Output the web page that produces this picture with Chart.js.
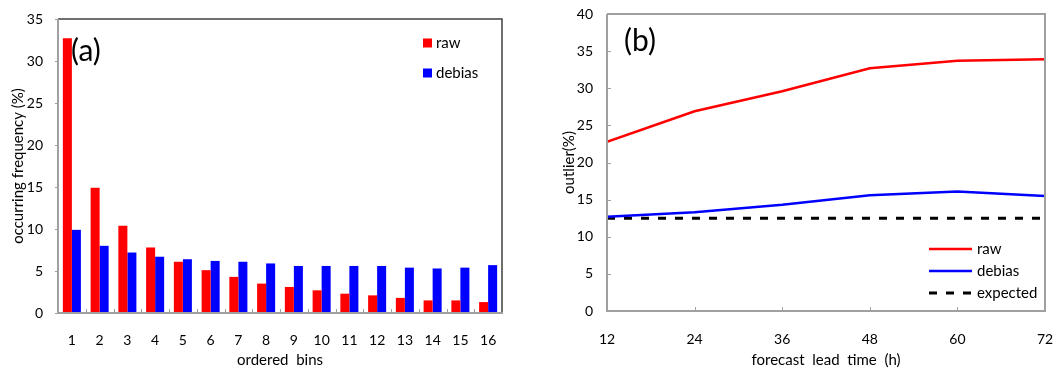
<!DOCTYPE html>
<html><head><meta charset="utf-8">
<script src="https://cdn.jsdelivr.net/npm/chart.js@4.4.1/dist/chart.umd.min.js"></script>
<style>
html,body{margin:0;padding:0;background:#fff;}
#wrap{display:flex;width:1060px;height:369px;}
canvas{display:block;}
</style></head><body>
<div id="wrap"><canvas id="ca" width="530" height="369"></canvas><canvas id="cb" width="530" height="369"></canvas></div>
<script>
// ---- data ----
const bins = ['1','2','3','4','5','6','7','8','9','10','11','12','13','14','15','16'];
const rawFreq = [32.7,14.9,10.4,7.8,6.1,5.1,4.3,3.5,3.1,2.7,2.3,2.1,1.8,1.5,1.5,1.3];
const debiasFreq = [9.9,8.0,7.2,6.7,6.4,6.2,6.1,5.9,5.6,5.6,5.6,5.6,5.4,5.3,5.4,5.7];
const leadTimes = [12,24,36,48,60,72];
const rawOutlier = [22.8,26.9,29.6,32.7,33.7,33.9];
const debiasOutlier = [12.7,13.3,14.3,15.6,16.1,15.5];
const expectedOutlier = [12.5,12.5,12.5,12.5,12.5,12.5];
const freqAxisMax = 35, outlierAxisMax = 40, axisStep = 5, leadStep = 12;

const FONT = 'Lato, "Open Sans", sans-serif';
const GRAY = '#a0a0a0';
Chart.defaults.font.family = FONT;
Chart.defaults.color = '#000';

function noPad(s){ s.paddingLeft = 0; s.paddingRight = 0; s.paddingTop = 0; s.paddingBottom = 0; }

function decorPlugin(cfg){
  return {
    id: 'decor',
    afterDatasetsDraw(chart){
      const {ctx, chartArea:a, scales} = chart;
      ctx.save();
      // inward x ticks
      ctx.strokeStyle = GRAY; ctx.lineWidth = 1;
      cfg.xTickPixels(chart).forEach(x=>{
        x = Math.round(x)+0.5;
        ctx.beginPath(); ctx.moveTo(x, a.bottom); ctx.lineTo(x, a.bottom-4); ctx.stroke();
      });
      if (cfg.yInward){
        scales.y.ticks.forEach((t,i)=>{
          const y = Math.round(scales.y.getPixelForTick(i))+0.5;
          ctx.beginPath(); ctx.moveTo(a.left, y); ctx.lineTo(a.left+4, y); ctx.stroke();
        });
      }
      // frame
      ctx.lineWidth = cfg.tlWidth; ctx.strokeStyle = cfg.tlColor;
      ctx.beginPath(); ctx.moveTo(a.left, a.top); ctx.lineTo(a.right, a.top); ctx.lineTo(a.right, a.bottom); ctx.stroke();
      ctx.lineWidth = 2; ctx.strokeStyle = GRAY;
      ctx.beginPath(); ctx.moveTo(a.left, a.top); ctx.lineTo(a.left, a.bottom); ctx.lineTo(a.right+1, a.bottom); ctx.stroke();
      // panel label
      ctx.fillStyle = '#000'; ctx.font = '30px ' + FONT; ctx.textBaseline = 'middle'; ctx.textAlign = 'left';
      ctx.fillText(cfg.label, a.left + cfg.labelDx, a.top + cfg.labelDy);
      // legend
      ctx.font = '15px ' + FONT;
      chart.data.datasets.forEach((ds,i)=>{
        const y = cfg.legendY(a, i);
        const x = a.right + cfg.legendDx;
        if (cfg.legendType === 'box'){
          ctx.fillStyle = ds.backgroundColor;
          ctx.fillRect(x, y-4.5, 9, 9);
          ctx.fillStyle = '#000';
          ctx.fillText(ds.label, x + 13, y);
        } else {
          ctx.strokeStyle = ds.borderColor; ctx.lineWidth = ds.borderWidth;
          ctx.setLineDash(ds.borderDash || []);
          ctx.beginPath(); ctx.moveTo(x, y); ctx.lineTo(x+43, y); ctx.stroke();
          ctx.setLineDash([]);
          ctx.fillStyle = '#000';
          ctx.fillText(ds.label, x + 48, y);
        }
      });
      ctx.restore();
    }
  };
}

// ---- chart (a) ----
new Chart(document.getElementById('ca'), {
  type: 'bar',
  data: {
    labels: bins,
    datasets: [
      {label:'raw', data: rawFreq, backgroundColor:'#ff0000', categoryPercentage:0.65, barPercentage:1.0},
      {label:'debias', data: debiasFreq, backgroundColor:'#0000ff', categoryPercentage:0.65, barPercentage:1.0}
    ]
  },
  options: {
    responsive:false, animation:false, devicePixelRatio:1,
    layout:{padding:{left:0, right:28, top:19, bottom:0}},
    plugins:{legend:{display:false}, tooltip:{enabled:false}},
    scales:{
      x:{
        type:'category', offset:true,
        grid:{display:false, drawTicks:false},
        border:{display:false},
        ticks:{font:{size:14}, padding:19, maxRotation:0, autoSkip:false},
        title:{display:true, text:'ordered  bins', font:{size:15}, padding:{top:0,bottom:0}},
        afterFit(s){ s.height = 56; noPad(s); }
      },
      y:{
        min:0, max:freqAxisMax,
        grid:{drawOnChartArea:false, drawTicks:true, tickLength:3, color:GRAY},
        border:{display:false},
        ticks:{stepSize:axisStep, font:{size:14}, padding:12},
        title:{display:true, text:'occurring frequency (%)', font:{size:15}, padding:{top:9,bottom:0}},
        afterFit(s){ s.width = 58; noPad(s); }
      }
    }
  },
  plugins:[decorPlugin({
    xTickPixels(chart){
      const s = chart.scales.x, n = bins.length, out = [];
      const step = (s.right - s.left)/n;
      for (let i=1;i<n;i++) out.push(s.left + i*step);
      return out;
    },
    yInward:false, tlColor:'#404040', tlWidth:1.5,
    label:'(a)', labelDx:13, labelDy:32,
    legendType:'box', legendDx:-79,
    legendY(a,i){ return a.top + 24 + i*30; }
  })]
});

// ---- chart (b) ----
new Chart(document.getElementById('cb'), {
  type: 'line',
  data: {
    datasets: [
      {label:'raw', data: leadTimes.map((t,i)=>({x:t,y:rawOutlier[i]})), borderColor:'#ff0000', borderWidth:2.5, pointRadius:0, tension:0},
      {label:'debias', data: leadTimes.map((t,i)=>({x:t,y:debiasOutlier[i]})), borderColor:'#0000ff', borderWidth:2.5, pointRadius:0, tension:0},
      {label:'expected', data: leadTimes.map((t,i)=>({x:t,y:expectedOutlier[i]})), borderColor:'#000000', borderWidth:3, borderDash:[8,9], pointRadius:0, tension:0}
    ]
  },
  options: {
    responsive:false, animation:false, devicePixelRatio:1,
    layout:{padding:{left:0, right:15, top:14, bottom:0}},
    plugins:{legend:{display:false}, tooltip:{enabled:false}},
    scales:{
      x:{
        type:'linear', min:leadTimes[0], max:leadTimes[leadTimes.length-1],
        grid:{display:false, drawTicks:false},
        border:{display:false},
        ticks:{stepSize:leadStep, font:{size:14}, padding:20, maxRotation:0},
        title:{display:true, text:'forecast  lead  time  (h)', font:{size:15}, padding:{top:0,bottom:0}},
        afterFit(s){ s.height = 58; noPad(s); }
      },
      y:{
        min:0, max:outlierAxisMax,
        grid:{display:false, drawTicks:false},
        border:{display:false},
        ticks:{stepSize:axisStep, font:{size:14}, padding:14},
        title:{display:true, text:'outlier(%)', font:{size:15}, padding:{top:30,bottom:0}},
        afterFit(s){ s.width = 77; noPad(s); }
      }
    }
  },
  plugins:[decorPlugin({
    xTickPixels(chart){
      const s = chart.scales.x;
      return leadTimes.slice(1,-1).map(v=>s.getPixelForValue(v));
    },
    yInward:true, tlColor:GRAY, tlWidth:2,
    label:'(b)', labelDx:17, labelDy:27,
    legendType:'line', legendDx:-116,
    legendY(a,i){ return a.bottom - 62 + i*22; }
  })]
});
</script>
</body></html>
